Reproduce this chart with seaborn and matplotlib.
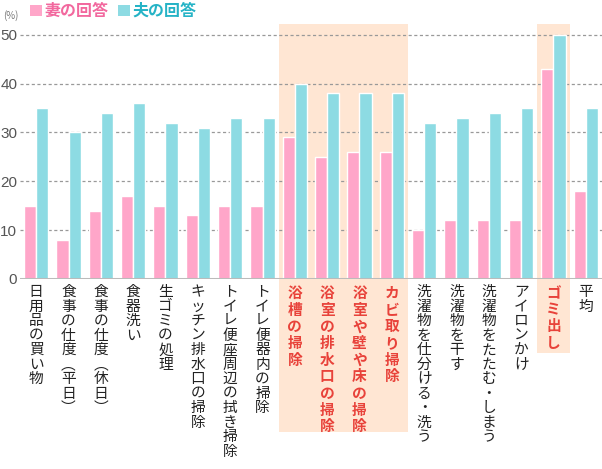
import matplotlib
matplotlib.use("Agg")
import matplotlib.pyplot as plt
import matplotlib.transforms as mtransforms
from matplotlib.patches import Rectangle, Patch
import seaborn as sns
import pandas as pd

categories = ["日用品の買い物", "食事の仕度︵平日︶", "食事の仕度︵休日︶", "食器洗い", "生ゴミの処理",
              "キッチン排水口の掃除", "トイレ便座周辺の拭き掃除", "トイレ便器内の掃除",
              "浴槽の掃除", "浴室の排水口の掃除", "浴室や壁や床の掃除", "カビ取り掃除",
              "洗濯物を仕分ける・洗う", "洗濯物を干す", "洗濯物をたたむ・しまう", "アイロンかけ",
              "ゴミ出し", "平均"]
wife = [15, 8, 14, 17, 15, 13, 15, 15, 29, 25, 26, 26, 10, 12, 12, 12, 43, 18]
husband = [35, 30, 34, 36, 32, 31, 33, 33, 40, 38, 38, 38, 32, 33, 34, 35, 50, 35]
series_names = ["妻の回答", "夫の回答"]
yticks = [0, 10, 20, 30, 40, 50]
highlight_groups = [(8, 11), (16, 16)]

pink = "#FFA6C9"
teal = "#8DDBE3"
pink_txt = "#F2689E"
teal_txt = "#25B3C6"
red_txt = "#E8423A"
band = "#FFE6D3"

sns.set_theme(style="white")
plt.rcParams["font.family"] = ["Noto Sans CJK JP", "DejaVu Sans"]

df = pd.DataFrame({
    "cat": categories * 2,
    "val": wife + husband,
    "who": [series_names[0]] * len(categories) + [series_names[1]] * len(categories),
})

fig = plt.figure(figsize=(6.02, 4.69), dpi=100)
W, H = 602, 469
ax = fig.add_axes([20 / W, 1 - 279 / H, 582 / W, (279 - 24) / H])
ax.patch.set_alpha(0)

sns.barplot(data=df, x="cat", y="val", hue="who", order=categories,
            hue_order=series_names, palette=[pink, teal], saturation=1, width=0.76,
            edgecolor="white", linewidth=1.0, ax=ax, legend=False, zorder=3)

ax.set_xlim(-0.5, len(categories) - 0.5)
ax.set_ylim(0, 52.2)
ax.set_xlabel("")
ax.set_ylabel("")
ax.set_xticks(range(len(categories)))
ax.set_xticklabels([])
ax.tick_params(axis="x", length=0)
ax.set_yticks(yticks)
ax.set_yticklabels([str(v) for v in yticks], fontsize=11, color="#555555",
                   family=["Liberation Sans", "DejaVu Sans"])
ax.tick_params(axis="y", length=0, pad=2)
for s in ax.spines.values():
    s.set_visible(False)

for v in yticks[1:]:
    ax.axhline(v, color="#999999", lw=0.9, ls=(0, (2.5, 2)), zorder=2)
ax.axhline(0, color="#BBBBBB", lw=2.2, zorder=4)

# highlight bands extending into label area
trans = mtransforms.blended_transform_factory(ax.transData, fig.transFigure)
band_bottoms = [432, 353]
for (a, b), bot in zip(highlight_groups, band_bottoms):
    r = Rectangle((a - 0.5, 1 - bot / H), b - a + 1, (bot - 24) / H,
                  transform=trans, facecolor=band, edgecolor="none",
                  zorder=0, clip_on=False)
    ax.add_patch(r)

hl = set()
for a, b in highlight_groups:
    hl.update(range(a, b + 1))

for i, lab in enumerate(categories):
    is_hl = i in hl
    ax.text(i, 1 - 285 / H, "\n".join(lab), transform=trans, ha="center", va="top",
            fontsize=10.6, linespacing=1.05,
            color=red_txt if is_hl else "#222222",
            fontweight="bold" if is_hl else "normal", zorder=5)

fig.text(3 / W, 1 - 16 / H, "(%)", fontsize=7, color="#777777", va="center")

handles = [Patch(facecolor=pink, edgecolor="none"), Patch(facecolor=teal, edgecolor="none")]
leg = fig.legend(handles, series_names, loc="center left", bbox_to_anchor=(30 / W, 1 - 11 / H),
                 ncol=2, frameon=False, handlelength=0.75, handleheight=0.75,
                 handletextpad=0.15, columnspacing=0.6, borderaxespad=0, borderpad=0,
                 prop={"size": 11.5, "weight": "bold"}, labelcolor=[pink_txt, teal_txt])

fig.savefig("out.png", dpi=100)
